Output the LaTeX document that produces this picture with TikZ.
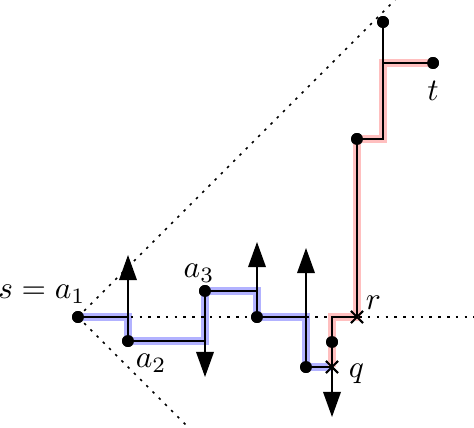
\documentclass[tikz,border=0pt]{standalone}
\usetikzlibrary{positioning, arrows.meta, shapes.misc}
\begin{document}
\begin{tikzpicture}[x=0.28cm,y=0.28cm,dot/.style={circle,fill=black,inner sep=0pt,minimum size=3.8pt},xmark/.style={cross out,draw=black,semithick,inner sep=0pt,minimum size=3.2pt},walk/.style={black,line width=0.55pt},bluehl/.style={blue!30,line width=2.4pt,line join=miter},redhl/.style={red!25,line width=2.4pt,line join=miter},guide/.style={black,line width=0.5pt,dash pattern=on 0.8pt off 2pt},jump/.style={black,line width=0.55pt,-{Triangle[length=8pt,width=5.6pt]}},lbl/.style={inner sep=0pt}]
\useasboundingbox (-3.12,-4.4) rectangle (15.84,12.68);
% points of the walk
\node[dot] (s) at (0,0) {};
\coordinate (c1) at (2,0);
\node[dot] (a2) at (2,-0.96) {};
\coordinate (c2) at (5.08,-0.96);
\node[dot] (a3) at (5.08,1.04) {};
\coordinate (c3) at (7.16,1.04);
\node[dot] (b) at (7.16,0) {};
\coordinate (c4) at (9.12,0);
\node[dot] (d) at (9.12,-2) {};
\node[xmark] (q) at (10.16,-2) {};
\node[dot] (e) at (10.16,-1) {};
\coordinate (c5) at (10.16,0);
\node[xmark] (r) at (11.16,0) {};
\node[dot] (f) at (11.16,7.12) {};
\coordinate (c6) at (12.2,7.12);
\coordinate (c7) at (12.2,10.16);
\node[dot] (t) at (14.2,10.16) {};
\node[dot] (g) at (12.2,11.8) {};
% highlighted parts
\draw[bluehl] (s.center) -- (c1) -- (a2.center) -- (c2) -- (a3.center) -- (c3) -- (b.center) -- (c4) -- (d.center) -- (q.center);
\draw[redhl] (q.center) -- (c5) -- (r.center) -- (f.center) -- (c6) -- (c7) -- (t.center);
% cone
\coordinate (hor) at (15.84,0);
\coordinate (up) at (12.68,12.68);
\coordinate (down) at (4.4,-4.4);
\draw[guide] (s.center) -- (hor);
\draw[guide] (s.center) -- (up);
\draw[guide] (s.center) -- (down);
% walk
\draw[walk] (s.center) -- (c1) -- (a2.center) -- (c2) -- (a3.center) -- (c3) -- (b.center) -- (c4) -- (d.center) -- (q.center);
\draw[walk] (q.center) -- (c5) -- (r.center) -- (f.center) -- (c6) -- (c7) -- (t.center);
\draw[walk] (c7) -- (g.center);
% jumps
\coordinate (j1) at (2,2.48);
\coordinate (j2) at (5.08,-2.4);
\coordinate (j3) at (7.16,3.0);
\coordinate (j4) at (9.12,2.76);
\coordinate (j5) at (10.16,-4);
\draw[jump] (a2.center) -- (j1);
\draw[jump] (a3.center) -- (j2);
\draw[jump] (b.center) -- (j3);
\draw[jump] (d.center) -- (j4);
\draw[jump] (q.center) -- (j5);
\node[dot] at (s) {};
\node[dot] at (a2) {};
\node[dot] at (a3) {};
\node[dot] at (b) {};
\node[dot] at (d) {};
\node[dot] at (e) {};
\node[dot] at (f) {};
\node[dot] at (g) {};
\node[dot] at (t) {};
\node[xmark] at (q) {};
\node[xmark] at (r) {};
% labels
\node[lbl, above left=4.2pt and -2.6pt of s.center] (slbl) {$s=a_1$};
\node[lbl, below right=3.9pt and 2.3pt of a2.center] (a2lbl) {$a_2$};
\node[lbl, above=2.6pt of a3.center, xshift=-1.9pt] (a3lbl) {$a_3$};
\node[lbl, above right=2.3pt and 2.6pt of r.center] (rlbl) {$r$};
\node[lbl, below right=-1.3pt and 5.2pt of q.center] (qlbl) {$q$};
\node[lbl, below=5.5pt of t.center] (tlbl) {$t$};
\end{tikzpicture}
\end{document}
